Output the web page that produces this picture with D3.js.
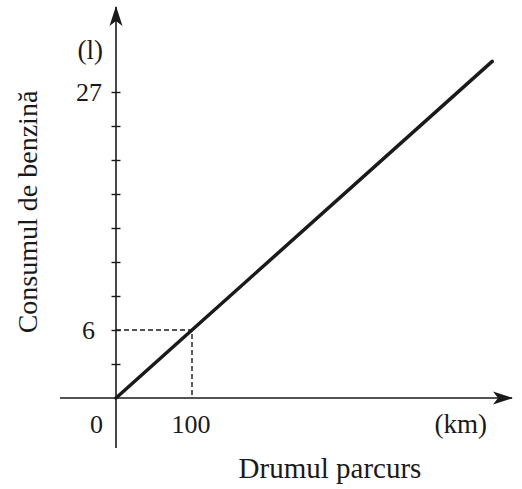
<!DOCTYPE html>
<html>
<head>
<meta charset="utf-8">
<script src="https://cdn.jsdelivr.net/npm/d3@7"></script>
<style>
  html, body { margin: 0; padding: 0; background: #fff; }
  svg { display: block; }
  text { font-family: "Liberation Serif", "DejaVu Serif", serif; fill: #1a1a1a; }
</style>
</head>
<body>
<svg id="chart" width="522" height="489"></svg>
<script>
// ---- data ----
const distanceKm = [0, 100, 495];          // x values (km)
const fuelLitres = [0, 6, 29.7];           // y values (l)
const yTickValues = [3, 6, 9, 12, 15, 18, 21, 24, 27];
const yTickLabels = ["6", "27"];
const xTickLabels = ["0", "100"];
const markedPoint = [100, 6];
const xUnit = "(km)";
const yUnit = "(l)";
const xTitle = "Drumul parcurs";
const yTitle = "Consumul de benzină";

// ---- layout ----
const svg = d3.select("#chart");
const ink = "#1a1a1a";
const x = d3.scaleLinear().domain([0, 100]).range([116, 192]);
const y = d3.scaleLinear().domain([0, 6]).range([398, 330]);

// arrow marker
const defs = svg.append("defs");
defs.append("marker")
  .attr("id", "arrow")
  .attr("viewBox", "0 0 20 14")
  .attr("refX", 19).attr("refY", 7)
  .attr("markerWidth", 20).attr("markerHeight", 14)
  .attr("markerUnits", "userSpaceOnUse")
  .attr("orient", "auto")
  .append("path")
  .attr("d", "M0,0.5 L20,7 L0,13.5 L5,7 Z")
  .attr("fill", ink);

// x axis line
svg.append("line")
  .attr("x1", 60).attr("x2", 512)
  .attr("y1", y(0)).attr("y2", y(0))
  .attr("stroke", ink).attr("stroke-width", 1.6)
  .attr("marker-end", "url(#arrow)");

// y axis line
svg.append("line")
  .attr("x1", x(0)).attr("x2", x(0))
  .attr("y1", 448).attr("y2", 7)
  .attr("stroke", ink).attr("stroke-width", 1.6)
  .attr("marker-end", "url(#arrow)");

// y ticks via d3 axis
const yAxis = d3.axisLeft(y).tickValues(yTickValues).tickSize(4).tickFormat("");
const gy = svg.append("g").attr("transform", `translate(${x(0)},0)`).call(yAxis);
gy.select(".domain").remove();
gy.selectAll(".tick line").attr("x1", 4.5).attr("x2", -4.5)
  .attr("stroke", ink).attr("stroke-width", 1.4);

// dashed guides
svg.append("path")
  .attr("d", `M${x(0)},${y(markedPoint[1])} H${x(markedPoint[0])} V${y(0)}`)
  .attr("fill", "none").attr("stroke", ink)
  .attr("stroke-width", 1.4).attr("stroke-dasharray", "5,3");

// main line
const line = d3.line().x(d => x(d[0])).y(d => y(d[1]));
svg.append("path")
  .datum(distanceKm.map((d, i) => [d, fuelLitres[i]]))
  .attr("d", line)
  .attr("fill", "none").attr("stroke", ink)
  .attr("stroke-width", 3.5).attr("stroke-linecap", "round");

// y tick labels
svg.append("text").attr("x", 95).attr("y", y(6) + 9)
  .attr("text-anchor", "end").attr("font-size", 26).text(yTickLabels[0]);
svg.append("text").attr("x", 102).attr("y", y(27) + 9)
  .attr("text-anchor", "end").attr("font-size", 26).text(yTickLabels[1]);
svg.append("text").attr("x", 103).attr("y", 50 + 9)
  .attr("text-anchor", "end").attr("font-size", 27).text(yUnit);

// x tick labels
svg.append("text").attr("x", 103).attr("y", 433)
  .attr("text-anchor", "end").attr("font-size", 26).text(xTickLabels[0]);
svg.append("text").attr("x", x(100) - 1).attr("y", 433)
  .attr("text-anchor", "middle").attr("font-size", 26).text(xTickLabels[1]);
svg.append("text").attr("x", 487).attr("y", 433)
  .attr("text-anchor", "end").attr("font-size", 27).text(xUnit);

// axis titles
svg.append("text").attr("x", 330).attr("y", 478)
  .attr("text-anchor", "middle").attr("font-size", 29).text(xTitle);
svg.append("text")
  .attr("transform", "translate(37,212) rotate(-90)")
  .attr("text-anchor", "middle").attr("font-size", 28).text(yTitle);
</script>
</body>
</html>
